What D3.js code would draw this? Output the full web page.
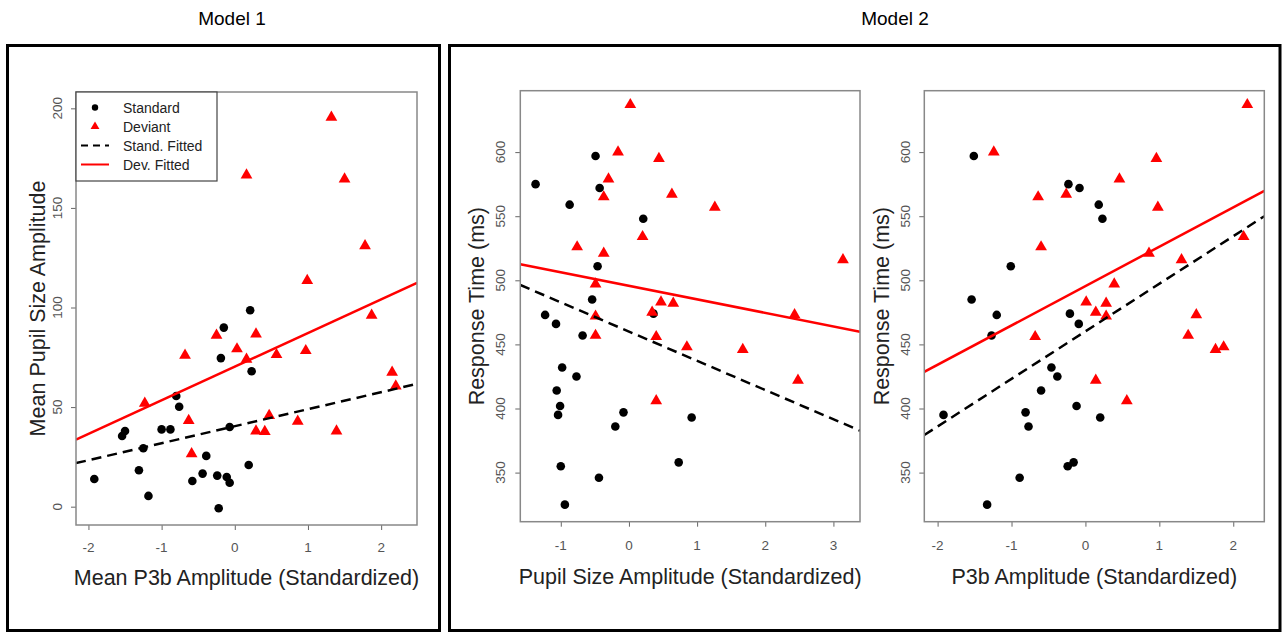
<!DOCTYPE html>
<html>
<head>
<meta charset="utf-8">
<script src="https://cdn.jsdelivr.net/npm/d3@7"></script>
<style>
  body { margin: 0; background: #fff; }
  svg { font-family: "Liberation Sans", Arial, sans-serif; }
</style>
</head>
<body>
<div id="chart"></div>
<script>
// Model 1: P3b vs pupil size
var m1StdX = [-1.92, -1.54, -1.50, -1.25, -1.31, -1.18, -1.00, -0.88, -0.80, -0.76, -0.58, -0.44, -0.39, -0.24, -0.22, -0.19, -0.15, -0.11, -0.07, -0.07, 0.19, 0.21, 0.23];
var m1StdY = [13.9, 35.5, 38.0, 29.3, 18.3, 5.4, 38.8, 38.8, 55.6, 50.2, 12.9, 16.6, 25.5, 15.6, -0.8, 74.6, 89.9, 14.9, 12.0, 40.0, 20.9, 98.6, 68.0];
var m1DevX = [-1.23, -0.68, -0.63, -0.59, -0.25, 0.03, 0.16, 0.16, 0.29, 0.29, 0.41, 0.47, 0.57, 0.86, 0.97, 0.99, 1.32, 1.39, 1.50, 1.78, 1.87, 2.15, 2.20];
var m1DevY = [51.9, 76.0, 43.2, 26.5, 86.0, 79.2, 74.0, 166.5, 86.7, 38.0, 37.7, 45.7, 76.3, 42.9, 78.3, 113.5, 195.5, 38.0, 164.5, 131.0, 96.1, 67.5, 60.6];
var m1StdFit = [40.4, 8.54];   // intercept, slope
var m1DevFit = [70.3, 16.9];
var m1XTicks = [-2, -1, 0, 1, 2];
var m1YTicks = [0, 50, 100, 150, 200];

// Model 2a: pupil size vs response time
var m2aStdX = [-1.37, -1.23, -1.07, -0.87, -0.98, -1.06, -1.01, -1.04, -0.77, -0.68, -1.00, -0.94, -0.54, -0.49, -0.43, -0.46, -0.44, -0.20, -0.08, 0.21, 0.36, 0.73, 0.92];
var m2aStdY = [575, 473, 466, 559, 432, 414, 402, 395, 425, 457, 355, 325, 485, 597, 572, 511, 346, 386, 397, 548, 474, 358, 393];
var m2aDevX = [-0.76, -0.49, -0.49, -0.49, -0.37, -0.37, -0.30, -0.16, 0.02, 0.20, 0.34, 0.40, 0.40, 0.44, 0.47, 0.63, 0.65, 0.85, 1.26, 1.67, 2.43, 2.48, 3.14];
var m2aDevY = [526, 497, 472, 457, 521, 565, 579, 600, 637, 534, 475, 456, 406, 595, 483, 567, 482, 448, 557, 446, 473, 422, 516];
var m2aStdFit = [460.0, -22.8];
var m2aDevFit = [495.7, -10.56];
var m2aXTicks = [-1, 0, 1, 2, 3];

// Model 2b: P3b vs response time
var m2bStdX = [-1.92, -1.51, -1.54, -1.27, -1.20, -1.33, -1.01, -0.89, -0.81, -0.77, -0.60, -0.46, -0.38, -0.24, -0.16, -0.23, -0.21, -0.12, -0.09, -0.08, 0.18, 0.23, 0.20];
var m2bStdY = [395, 597, 485, 457, 473, 325, 511, 346, 397, 386, 414, 432, 425, 355, 358, 575, 474, 402, 466, 572, 559, 548, 393];
var m2bDevX = [-1.24, -0.64, -0.60, -0.68, -0.26, 0.01, 0.14, 0.14, 0.28, 0.28, 0.39, 0.46, 0.56, 0.86, 0.96, 0.98, 1.30, 1.39, 1.50, 1.76, 1.87, 2.14, 2.19];
var m2bDevY = [600, 565, 526, 456, 567, 483, 475, 422, 482, 472, 497, 579, 406, 521, 595, 557, 516, 457, 473, 446, 448, 534, 637];
var m2bStdFit = [460.2, 37.1];
var m2bDevFit = [495.5, 30.7];
var m2bXTicks = [-2, -1, 0, 1, 2];
var rtTicks = [350, 400, 450, 500, 550, 600];

var width = 1285, height = 633;

var svg = d3.select("#chart").append("svg")
  .attr("width", width)
  .attr("height", height);

// outer boxes and model titles
svg.append("rect").attr("x", 7.5).attr("y", 45.5).attr("width", 432).attr("height", 585)
  .attr("fill", "none").attr("stroke", "#000").attr("stroke-width", 3);
svg.append("rect").attr("x", 449.5).attr("y", 45.5).attr("width", 830.5).attr("height", 585)
  .attr("fill", "none").attr("stroke", "#000").attr("stroke-width", 3);

svg.append("text").attr("x", 232).attr("y", 18).attr("text-anchor", "middle")
  .attr("dominant-baseline", "central").style("font-size", "19px").text("Model 1");
svg.append("text").attr("x", 895).attr("y", 18).attr("text-anchor", "middle")
  .attr("dominant-baseline", "central").style("font-size", "19px").text("Model 2");

var panels = [
  { id: "p1", left: 76, right: 417, top: 92, bottom: 525, xDom: [-2.17, 2.49], yDom: [-9.2, 208.2],
    xTicks: m1XTicks, yTicks: m1YTicks, stdX: m1StdX, stdY: m1StdY, devX: m1DevX, devY: m1DevY,
    stdFit: m1StdFit, devFit: m1DevFit, xTitle: "Mean P3b Amplitude (Standardized)",
    yTitle: "Mean Pupil Size Amplitude", yTitleX: 38, yTickX: 57, xTickY: 547, xTitleY: 578, legend: true },
  { id: "p2", left: 520.3, right: 860, top: 90.7, bottom: 521.7, xDom: [-1.594, 3.39], yDom: [311.7, 647.9],
    xTicks: m2aXTicks, yTicks: rtTicks, stdX: m2aStdX, stdY: m2aStdY, devX: m2aDevX, devY: m2aDevY,
    stdFit: m2aStdFit, devFit: m2aDevFit, xTitle: "Pupil Size Amplitude (Standardized)",
    yTitle: "Response Time (ms)", yTitleX: 477, yTickX: 500, xTickY: 545, xTitleY: 577, legend: false },
  { id: "p3", left: 924.3, right: 1264.3, top: 90.7, bottom: 521.7, xDom: [-2.18, 2.42], yDom: [311.7, 647.9],
    xTicks: m2bXTicks, yTicks: rtTicks, stdX: m2bStdX, stdY: m2bStdY, devX: m2bDevX, devY: m2bDevY,
    stdFit: m2bStdFit, devFit: m2bDevFit, xTitle: "P3b Amplitude (Standardized)",
    yTitle: "Response Time (ms)", yTitleX: 882, yTickX: 905, xTickY: 545, xTitleY: 577, legend: false }
];

var tri = d3.symbol().type(d3.symbolTriangle).size(60);

panels.forEach(function (p) {
  var x = d3.scaleLinear().domain(p.xDom).range([p.left, p.right]);
  var y = d3.scaleLinear().domain(p.yDom).range([p.bottom, p.top]);
  var g = svg.append("g");

  g.append("clipPath").attr("id", "clip-" + p.id)
    .append("rect").attr("x", p.left).attr("y", p.top)
    .attr("width", p.right - p.left).attr("height", p.bottom - p.top);

  // x axis ticks
  var xa = g.append("g").attr("transform", "translate(0," + p.bottom + ")")
    .call(d3.axisBottom(x).tickValues(p.xTicks).tickSize(5).tickFormat(d3.format("d")));
  xa.select(".domain").remove();
  xa.selectAll("line").attr("stroke", "#666");
  xa.selectAll("text").remove();
  g.selectAll(".xlab").data(p.xTicks).enter().append("text")
    .attr("x", function (d) { return x(d); })
    .attr("y", p.xTickY)
    .attr("text-anchor", "middle").attr("dominant-baseline", "central")
    .style("font-size", "13.5px").style("fill", "#555")
    .text(function (d) { return d; });

  // y axis ticks
  var ya = g.append("g").attr("transform", "translate(" + p.left + ",0)")
    .call(d3.axisLeft(y).tickValues(p.yTicks).tickSize(5));
  ya.select(".domain").remove();
  ya.selectAll("line").attr("stroke", "#666");
  ya.selectAll("text").remove();
  g.selectAll(".ylab").data(p.yTicks).enter().append("text")
    .attr("transform", function (d) { return "translate(" + p.yTickX + "," + y(d) + ") rotate(-90)"; })
    .attr("text-anchor", "middle").attr("dominant-baseline", "central")
    .style("font-size", "13.5px").style("fill", "#555")
    .text(function (d) { return d; });

  // titles
  g.append("text").attr("x", (p.left + p.right) / 2).attr("y", p.xTitleY)
    .attr("text-anchor", "middle").attr("dominant-baseline", "central")
    .style("font-size", "21.5px").style("fill", "#222").text(p.xTitle);
  g.append("text")
    .attr("transform", "translate(" + p.yTitleX + "," + (p.top + p.bottom) / 2 + ") rotate(-90)")
    .attr("text-anchor", "middle").attr("dominant-baseline", "central")
    .style("font-size", "21.5px").style("fill", "#222").text(p.yTitle);

  // points
  g.selectAll(".std").data(p.stdX).enter().append("circle")
    .attr("cx", function (d) { return x(d); })
    .attr("cy", function (d, i) { return y(p.stdY[i]); })
    .attr("r", 4.3).attr("fill", "#000");
  g.selectAll(".dev").data(p.devX).enter().append("path")
    .attr("d", tri)
    .attr("transform", function (d, i) { return "translate(" + x(d) + "," + y(p.devY[i]) + ")"; })
    .attr("fill", "#f00");

  // fitted lines
  var fitLine = function (f) {
    return p.xDom.map(function (v) { return [x(v), y(f[0] + f[1] * v)]; });
  };
  g.append("path").attr("d", d3.line()(fitLine(p.stdFit)))
    .attr("clip-path", "url(#clip-" + p.id + ")")
    .attr("fill", "none").attr("stroke", "#000").attr("stroke-width", 2.5)
    .attr("stroke-dasharray", "10,6");
  g.append("path").attr("d", d3.line()(fitLine(p.devFit)))
    .attr("clip-path", "url(#clip-" + p.id + ")")
    .attr("fill", "none").attr("stroke", "#f00").attr("stroke-width", 2.5);

  // plot frame
  g.append("rect").attr("x", p.left).attr("y", p.top)
    .attr("width", p.right - p.left).attr("height", p.bottom - p.top)
    .attr("fill", "none").attr("stroke", "#888").attr("stroke-width", 1.5);

  if (p.legend) {
    var lg = g.append("g");
    lg.append("rect").attr("x", p.left).attr("y", p.top).attr("width", 141).attr("height", 89)
      .attr("fill", "#fff").attr("stroke", "#444").attr("stroke-width", 1.2);
    var items = ["Standard", "Deviant", "Stand. Fitted", "Dev. Fitted"];
    items.forEach(function (t, i) {
      var yy = p.top + 15.5 + i * 19;
      if (i === 0) lg.append("circle").attr("cx", p.left + 19).attr("cy", yy).attr("r", 3.2).attr("fill", "#000");
      if (i === 1) lg.append("path").attr("d", d3.symbol().type(d3.symbolTriangle).size(34))
        .attr("transform", "translate(" + (p.left + 19) + "," + yy + ")").attr("fill", "#f00");
      if (i === 2) lg.append("line").attr("x1", p.left + 5).attr("x2", p.left + 33).attr("y1", yy).attr("y2", yy)
        .attr("stroke", "#000").attr("stroke-width", 2).attr("stroke-dasharray", "7,5");
      if (i === 3) lg.append("line").attr("x1", p.left + 5).attr("x2", p.left + 33).attr("y1", yy).attr("y2", yy)
        .attr("stroke", "#f00").attr("stroke-width", 2);
      lg.append("text").attr("x", p.left + 47).attr("y", yy).attr("dominant-baseline", "central")
        .style("font-size", "14px").style("fill", "#222").text(t);
    });
  }
});
</script>
</body>
</html>
